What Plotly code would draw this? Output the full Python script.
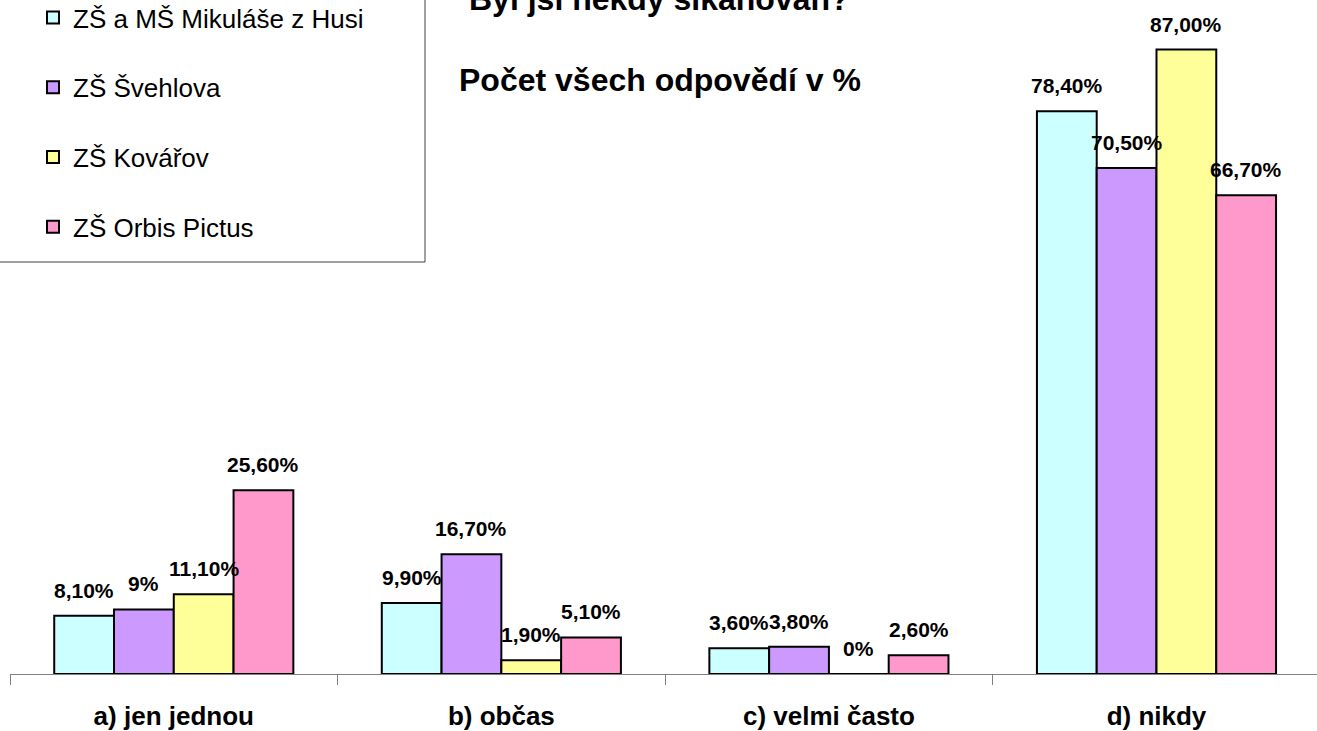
import plotly.graph_objects as go

categories = ["a) jen jednou", "b) občas", "c) velmi často", "d) nikdy"]
series_names = ["ZŠ a MŠ Mikuláše z Husi", "ZŠ Švehlova", "ZŠ Kovářov", "ZŠ Orbis Pictus"]
husi = [8.1, 9.9, 3.6, 78.4]
svehlova = [9.0, 16.7, 3.8, 70.5]
kovarov = [11.1, 1.9, 0.0, 87.0]
orbis = [25.6, 5.1, 2.6, 66.7]
husi_labels = ["8,10%", "9,90%", "3,60%", "78,40%"]
svehlova_labels = ["9%", "16,70%", "3,80%", "70,50%"]
kovarov_labels = ["11,10%", "1,90%", "0%", "87,00%"]
orbis_labels = ["25,60%", "5,10%", "2,60%", "66,70%"]
colors = ["#CCFFFF", "#CC99FF", "#FFFF99", "#FF99CC"]

values = [husi, svehlova, kovarov, orbis]
labels = [husi_labels, svehlova_labels, kovarov_labels, orbis_labels]

FONT = "Arial, 'Liberation Sans', sans-serif"

W, H = 1317, 731
ML, MR, MT, MB = 10, 0, 28, 57
BARGAP = 0.27
XRANGE = [-0.5, 3.49]
n_series = len(values)
PLOT_W = W - ML - MR
PLOT_H = H - MT - MB
cat_px = PLOT_W / (XRANGE[1] - XRANGE[0])
bar_px = cat_px * (1 - BARGAP) / n_series

fig = go.Figure()
annotations = []
for i, (name, vals, labs, col) in enumerate(zip(series_names, values, labels, colors)):
    fig.add_trace(go.Bar(
        x=categories, y=vals, name=name,
        marker=dict(color=col, line=dict(color="black", width=2)),
        legendgroup=f"g{i}",
        hoverinfo="skip",
    ))
    for cat, v, lab in zip(categories, vals, labs):
        annotations.append(dict(
            text=lab, x=cat, y=v, xref="x", yref="y",
            xshift=(i - (n_series - 1) / 2) * bar_px, yshift=12,
            xanchor="center", yanchor="bottom", showarrow=False,
            font=dict(family=FONT, size=21, color="black", weight="bold"),
        ))

annotations += [
    dict(text="Byl jsi někdy šikanován?", xref="paper", yref="paper",
         x=0.497, y=1.045, xanchor="center", yanchor="middle", showarrow=False,
         font=dict(family=FONT, size=32, color="black", weight="bold")),
    dict(text="Počet všech odpovědí v %", xref="paper", yref="paper",
         x=0.497, y=0.9195, xanchor="center", yanchor="middle", showarrow=False,
         font=dict(family=FONT, size=32, color="black", weight="bold")),
]

fig.update_layout(
    width=W, height=H,
    autosize=False,
    barmode="group", bargap=BARGAP, bargroupgap=0,
    plot_bgcolor="white", paper_bgcolor="white",
    margin=dict(l=ML, r=MR, t=MT, b=MB, autoexpand=False),
    font=dict(family=FONT, color="black"),
    showlegend=True,
    legend=dict(
        xref="paper", yref="paper",
        x=(33 - ML) / PLOT_W, y=1 + (MT + 6) / PLOT_H, xanchor="left", yanchor="top",
        bgcolor="rgba(0,0,0,0)", borderwidth=0,
        font=dict(family=FONT, size=26, color="black"),
        tracegroupgap=33,
        traceorder="grouped",
    ),
    xaxis=dict(
        range=XRANGE,
        showline=True, linecolor="#808080", linewidth=1,
        ticks="outside", tickson="boundaries", ticklen=10, tickcolor="#808080",
        tickfont=dict(family=FONT, size=26, color="black", weight="bold"),
        ticklabelstandoff=19,
        showgrid=False, zeroline=False,
    ),
    yaxis=dict(range=[0, 90], visible=False, showgrid=False),
    annotations=annotations,
    shapes=[dict(
        type="rect", xref="paper", yref="paper",
        x0=-0.02, x1=(425 - ML) / PLOT_W,
        y0=(H - MB - 262) / PLOT_H, y1=1.1,
        line=dict(color="#404040", width=1), fillcolor="white", layer="above",
    )],
)

fig.write_html("out.html", config={"displayModeBar": False},
               post_script="document.body.style.margin='0px';")
